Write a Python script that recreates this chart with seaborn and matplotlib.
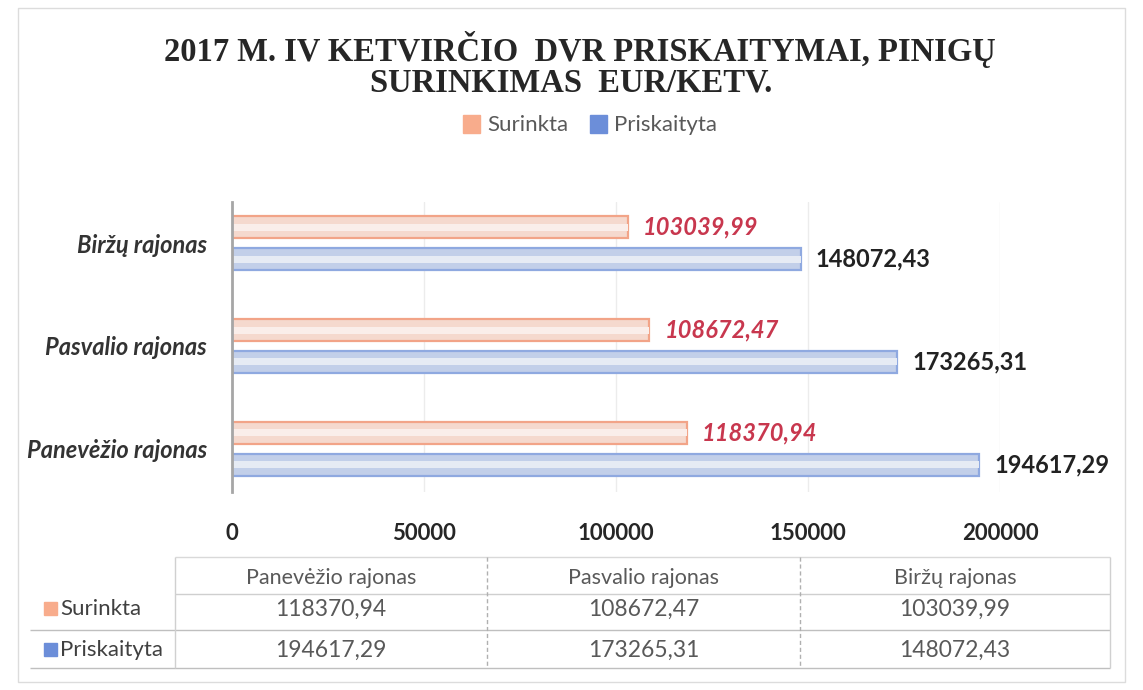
import pandas as pd
import matplotlib.pyplot as plt
import seaborn as sns
from matplotlib.patches import Patch, Rectangle

# data
regions = ['Biržų rajonas', 'Pasvalio rajonas', 'Panevėžio rajonas']
series = ['Surinkta', 'Priskaityta']
surinkta = [103039.99, 108672.47, 118370.94]
priskaityta = [148072.43, 173265.31, 194617.29]
xticks = [0, 50000, 100000, 150000, 200000]
table_cols = ['Panevėžio rajonas', 'Pasvalio rajonas', 'Biržų rajonas']

df = pd.DataFrame({
    'rajonas': regions * 2,
    'serija': [series[0]] * 3 + [series[1]] * 3,
    'suma': surinkta + priskaityta,
})


def fmt(v):
    return f"{v:.2f}".replace('.', ',')


fill_colors = ['#FBD6C8', '#BCCDEF']
stripe_colors = ['#FDEDE7', '#E4EAF6']
edge_colors = ['#F2A488', '#8FA9E0']
legend_colors = ['#F8AC8C', '#6C8ED9']

sns.set_theme(style='white')
plt.rcParams['font.family'] = ['Lato', 'DejaVu Sans']

W, H = 1143, 690
fig = plt.figure(figsize=(W / 100, H / 100), dpi=100)
ax = fig.add_axes([232 / W, 1 - 492 / H, (1000 - 232) / W, (492 - 202) / H])

sns.barplot(data=df, y='rajonas', x='suma', hue='serija', order=regions,
            hue_order=series, orient='h', width=0.62, gap=0.3,
            palette=fill_colors, linewidth=1.6, ax=ax)
for cont, ec in zip(ax.containers, edge_colors):
    for p in cont:
        p.set_edgecolor(ec)
bar_containers = list(ax.containers)
ax.get_legend().remove()

# light glossy stripe inside each bar
sns.barplot(data=df, y='rajonas', x='suma', hue='serija', order=regions,
            hue_order=series, orient='h', width=0.62, gap=0.78,
            palette=stripe_colors, linewidth=0, legend=False, ax=ax)

ax.set_xlim(0, 200000)
ax.set_ylim(2.42, -0.4)
ax.set_xticks(xticks)
ax.set_xticklabels([str(t) for t in xticks])
ax.set_xlabel('')
ax.set_ylabel('')
ax.grid(axis='x', color='#ececec', lw=1)
for s in ['top', 'right', 'bottom']:
    ax.spines[s].set_visible(False)
ax.spines['left'].set_color('#a6a6a6')
ax.spines['left'].set_linewidth(2)
ax.tick_params(axis='x', length=0, pad=22, labelsize=16, labelcolor='#262626')
ax.tick_params(axis='y', length=0, pad=18, labelsize=17, labelcolor='#333333')
for lab in ax.get_xticklabels():
    lab.set_fontweight('bold')
for lab in ax.get_yticklabels():
    lab.set_fontweight('bold')
    lab.set_fontstyle('italic')

label_styles = [('#C8374E', 'italic'), ('#222222', 'normal')]
for cont, (col, style) in zip(bar_containers, label_styles):
    ax.bar_label(cont, labels=[fmt(v) for v in cont.datavalues], padding=11,
                 fontsize=17, fontweight='bold', color=col, fontstyle=style)

# title
fig.text(0.507, 1 - 50 / H, '2017 M. IV KETVIRČIO  DVR PRISKAITYMAI, PINIGŲ',
         ha='center', va='center', family='Liberation Serif',
         fontweight='bold', fontsize=23.5, color='#262626')
fig.text(0.5, 1 - 83 / H, 'SURINKIMAS  EUR/KETV.',
         ha='center', va='center', family='Liberation Serif',
         fontweight='bold', fontsize=23.5, color='#262626')

fig.legend(handles=[Patch(color=c) for c in legend_colors], labels=series,
           loc='center', bbox_to_anchor=(590 / W, 1 - 125 / H), ncol=2,
           frameon=False, fontsize=16, handlelength=0.75, handleheight=0.9,
           handletextpad=0.3, columnspacing=1.0, labelcolor='#595959')

# data table under the chart
tx = fig.add_axes([0, 0, 1, 1], zorder=-1)
tx.set_xlim(0, W)
tx.set_ylim(H, 0)
tx.axis('off')
edges = [175, 487, 800, 1110]
centers = [(a + b) / 2 for a, b in zip(edges[:-1], edges[1:])]
row_y = [609, 650]
rows = {'Panevėžio rajonas': 2, 'Pasvalio rajonas': 1, 'Biržų rajonas': 0}
values = [surinkta, priskaityta]

tx.hlines(557, 175, 1110, color='#d9d9d9', lw=1)
tx.hlines(594, 175, 1110, color='#cfcfcf', lw=1)
tx.hlines([630, 668], 30, 1110, color='#bfbfbf', lw=1)
tx.vlines([175, 1110], 557, 668, color='#d0d0d0', lw=1)
tx.vlines([487, 800], 557, 668, color='#b0b0b0', lw=1, linestyles=(0, (3, 2)))

for c, name in zip(centers, table_cols):
    tx.text(c, 578, name, ha='center', va='center', fontsize=15.5, color='#595959')
    for y, vals in zip(row_y, values):
        tx.text(c, y, fmt(vals[rows[name]]), ha='center', va='center',
                fontsize=16.5, color='#595959')

for y, name, col in zip(row_y, series, legend_colors):
    tx.add_patch(Rectangle((44, y - 7), 13, 13, color=col))
    tx.text(60, y, name, ha='left', va='center', fontsize=16, color='#404040')

# faint frame around the whole chart
tx.add_patch(Rectangle((18, 8), 1107, 674, fill=False, ec='#dcdcdc', lw=1))

fig.savefig('out.png', dpi=100)
